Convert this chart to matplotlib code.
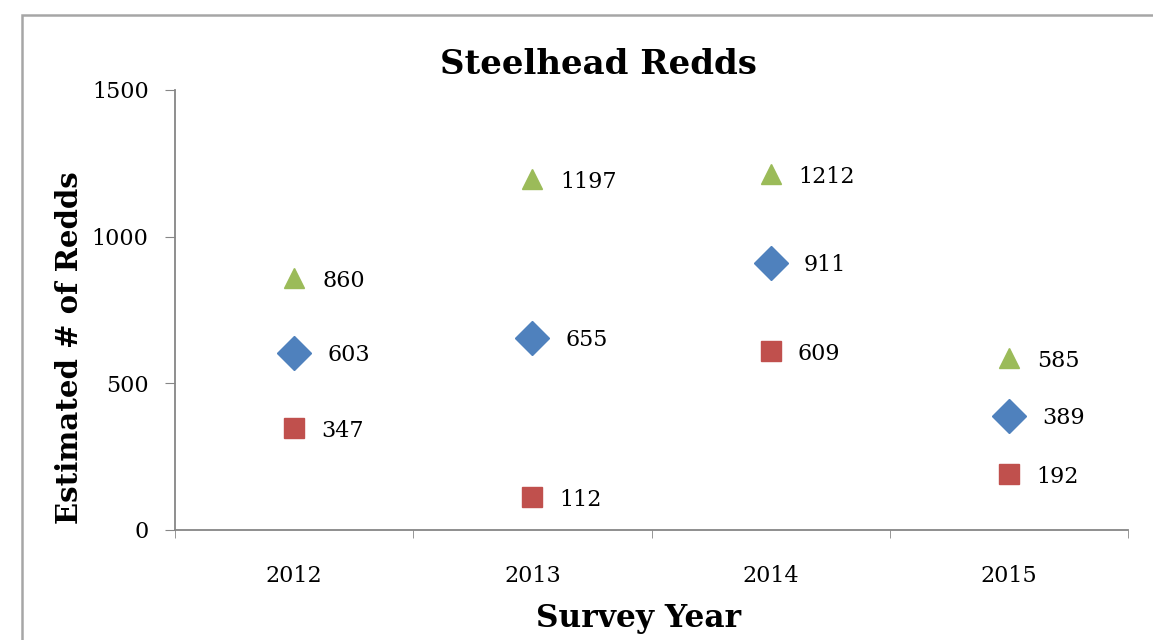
import numpy as np
import matplotlib.pyplot as plt
from matplotlib.patches import Rectangle

plt.rcParams['font.family'] = 'DejaVu Serif'

years = ['2012', '2013', '2014', '2015']
blue_vals = [603, 655, 911, 389]
red_vals = [347, 112, 609, 192]
green_vals = [860, 1197, 1212, 585]

x = np.arange(1, len(years) + 1)

fig = plt.figure(figsize=(11.53, 6.4), dpi=100)
W, H = 1153, 640

# outer chart border
fig.patches.append(Rectangle((22 / W, -0.1), 1.2, (625 + 64) / H, transform=fig.transFigure,
                             fill=False, edgecolor='#a6a6a6', linewidth=1.8))

ax = fig.add_axes([175 / W, 1 - 530 / H, (1128 - 175) / W, (530 - 90) / H])

ax.plot(x, blue_vals, 'D', color='#4F81BD', markersize=17, linestyle='none')
ax.plot(x, red_vals, 's', color='#C0504D', markersize=15, linestyle='none')
ax.plot(x, green_vals, '^', color='#9BBB59', markersize=15, linestyle='none')

for xi, v in zip(x, blue_vals):
    ax.annotate(str(v), (xi, v), xytext=(33, -2), textcoords='offset pixels',
                ha='left', va='center', fontsize=16)
for xi, v in zip(x, red_vals):
    ax.annotate(str(v), (xi, v), xytext=(27, -3), textcoords='offset pixels',
                ha='left', va='center', fontsize=16)
for xi, v in zip(x, green_vals):
    ax.annotate(str(v), (xi, v), xytext=(28, -3), textcoords='offset pixels',
                ha='left', va='center', fontsize=16)

ax.set_xlim(0.5, 4.5)
ax.set_ylim(0, 1500)
ax.set_yticks([0, 500, 1000, 1500])
ax.set_xticks(x)
ax.set_xticklabels(years)
ax.set_xticks(np.arange(0.5, 5, 1), minor=True)
ax.tick_params(axis='x', which='major', length=0, pad=25, labelsize=16)
ax.tick_params(axis='x', which='minor', length=6, color='#868686')
ax.tick_params(axis='y', length=7, color='#868686', pad=12, labelsize=16)

for s in ['top', 'right']:
    ax.spines[s].set_visible(False)
for s in ['left', 'bottom']:
    ax.spines[s].set_color('#868686')
    ax.spines[s].set_linewidth(1.3)

fig.text(598 / W, 1 - 64 / H, 'Steelhead Redds', ha='center', va='center',
         fontsize=24.5, fontweight='bold')
fig.text(70 / W, 1 - 348 / H, 'Estimated # of Redds', ha='center', va='center',
         rotation=90, fontsize=21, fontweight='bold')
fig.text(639 / W, 1 - 618 / H, 'Survey Year', ha='center', va='center',
         fontsize=22.5, fontweight='bold')

fig.savefig('out.png', dpi=100)
